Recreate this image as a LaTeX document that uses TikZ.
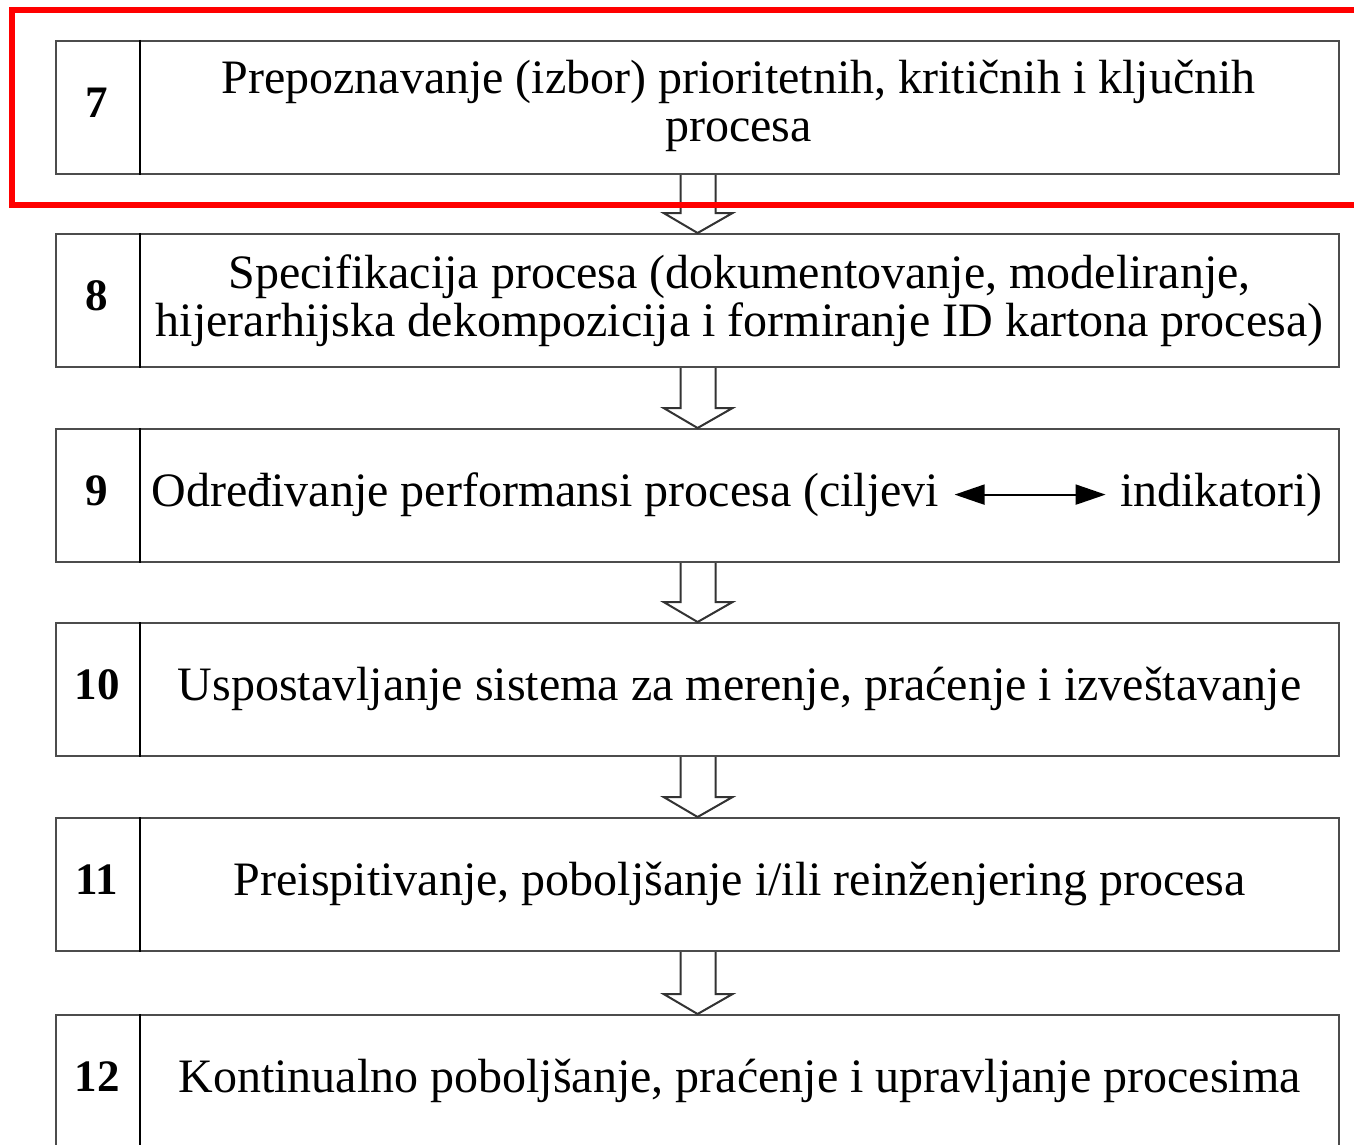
\documentclass[tikz,border=0pt]{standalone}
\usepackage{fontspec}
\setmainfont{Liberation Serif}
\usetikzlibrary{arrows.meta,calc}
\begin{document}
\begin{tikzpicture}[x=0.5pt,y=-0.5pt,
  rowbox/.style={draw=black!70, line width=1.1pt, minimum width=641.5pt,
    minimum height=66.5pt, inner sep=0pt, anchor=north west},
  divider/.style={draw=black, line width=0.8pt},
  numlabel/.style={font=\fontsize{22.5}{24}\selectfont\bfseries, inner sep=0pt},
  steptext/.style={font=\fontsize{24}{24}\selectfont, align=center, inner sep=0pt},
  blockarrow/.style={draw=black!80, line width=1pt, fill=white, line join=miter},
  biarrow/.style={draw=black, line width=1pt, {Triangle[length=15pt,width=10pt]}-{Triangle[length=15pt,width=10pt]}},
  highlight/.style={draw=red, line width=3pt}]
\useasboundingbox (0,0) rectangle (1354,1145);

% process steps
\foreach \n/\top in {7/40, 8/233, 9/428, 10/622, 11/817, 12/1014}{
  \node[rowbox] (row\n) at (55,\top) {};
  \draw[divider] ($(row\n.north west)+(85,0)$) -- ($(row\n.south west)+(85,0)$);
  \node[numlabel] (num\n) at ($(row\n.west)+(42,-5)$) {\n};
}

\node[steptext] (txt7) at ($(row7.center)+(41,-2)$) {Prepoznavanje (izbor) prioritetnih, kritičnih i ključnih\\procesa};
\node[steptext] (txt8) at ($(row8.center)+(42,0)$) {Specifikacija procesa (dokumentovanje, modeliranje,\\hijerarhijska dekompozicija i formiranje ID kartona procesa)};
\node[steptext, anchor=east] (txt9a) at ($(row9.center)+(242,-1)$) {Određivanje performansi procesa (ciljevi};
\node[steptext, anchor=west] (txt9b) at ($(row9.center)+(422,-1)$) {indikatori)};
\draw[biarrow] ($(txt9a.east)+(15,0)$) -- ($(txt9b.west)+(-14,0)$);
\node[steptext] (txt10) at ($(row10.center)+(42,-1)$) {Uspostavljanje sistema za merenje, praćenje i izveštavanje};
\node[steptext] (txt11) at ($(row11.center)+(42,-1)$) {Preispitivanje, poboljšanje i/ili reinženjering procesa};
\node[steptext] (txt12) at ($(row12.center)+(42,-1)$) {Kontinualno poboljšanje, praćenje i upravljanje procesima};

% hollow block arrows between consecutive steps
\foreach \a/\b in {7/8, 8/9, 9/10, 10/11, 11/12}{
  \path (row\a.south) coordinate (s) (row\b.north) coordinate (t);
  \draw[blockarrow] ($(s)+(-17,0)$) -- ($(t)+(-17,-20)$) -- ($(t)+(-34,-20)$)
    -- (t) -- ($(t)+(35,-20)$) -- ($(t)+(18,-20)$) -- ($(s)+(18,0)$);
}

% highlight frame around step 7
\draw[highlight] (12,10) rectangle (1420,205);
\end{tikzpicture}
\end{document}
